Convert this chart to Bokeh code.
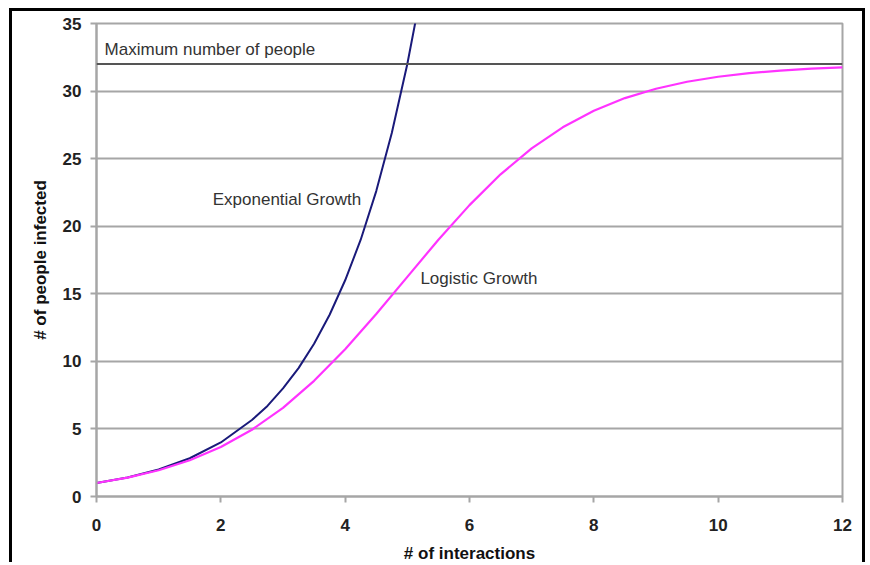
from bokeh.plotting import figure
from bokeh.models import Range1d, Span, Label, FixedTicker
from bokeh.embed import file_html
from bokeh.resources import INLINE

# Data
log_x = [0, 0.5, 1, 1.5, 2, 2.5, 3, 3.5, 4, 4.5, 5, 5.5, 6, 6.5, 7, 7.5, 8, 8.5,
         9, 9.5, 10, 10.5, 11, 11.5, 12]
log_y = [1, 1.40, 1.94, 2.68, 3.66, 4.94, 6.56, 8.56, 10.9, 13.5, 16.25, 19.0,
         21.56, 23.84, 25.76, 27.32, 28.54, 29.48, 30.17, 30.69, 31.06, 31.33,
         31.52, 31.66, 31.76]
exp_x = [0, 0.5, 1, 1.5, 2, 2.5, 2.75, 3, 3.25, 3.5, 3.75, 4, 4.25, 4.5, 4.75,
         5, 5.25, 5.5]
exp_y = [1, 1.41, 2, 2.83, 4, 5.66, 6.7, 8, 9.5, 11.3, 13.45, 16, 19.0, 22.6,
         26.9, 32, 38.0, 45.3]
max_people = 32
x_ticks = [0, 2, 4, 6, 8, 10, 12]
y_ticks = [0, 5, 10, 15, 20, 25, 30, 35]

FONT = "Liberation Sans"
GRID = "#a6a6a6"

p = figure(width=856, height=554, output_backend="svg", toolbar_location=None,
           x_range=Range1d(0, 12), y_range=Range1d(0, 35),
           min_border_left=84, min_border_right=26, min_border_top=12,
           min_border_bottom=68)
p.styles = {"margin-left": "9px", "margin-top": "8px",
            "border-left": "3px solid black", "border-top": "3px solid black",
            "border-right": "3px solid black"}

p.background_fill_color = "white"
p.border_fill_color = "white"
p.outline_line_color = GRID
p.outline_line_width = 2

p.xgrid.grid_line_color = None
p.ygrid.grid_line_color = GRID
p.ygrid.grid_line_width = 2

p.xaxis.ticker = FixedTicker(ticks=x_ticks)
p.yaxis.ticker = FixedTicker(ticks=y_ticks)
for ax in (p.xaxis, p.yaxis):
    ax.axis_line_color = GRID
    ax.axis_line_width = 2
    ax.major_tick_line_color = GRID
    ax.major_tick_line_width = 2
    ax.major_tick_in = 0
    ax.major_tick_out = 6
    ax.minor_tick_line_color = None
    ax.major_label_text_font = FONT
    ax.major_label_text_font_style = "bold"
    ax.major_label_text_font_size = "17px"
    ax.major_label_text_color = "#222222"
    ax.axis_label_text_font = FONT
    ax.axis_label_text_font_style = "bold"
    ax.axis_label_text_font_size = "17px"
    ax.axis_label_text_color = "#111111"

p.xaxis.axis_label = "# of interactions"
p.yaxis.axis_label = "# of people infected"
p.xaxis.major_label_standoff = 16
p.xaxis.axis_label_standoff = 10
p.yaxis.major_label_standoff = 9
p.yaxis.axis_label_standoff = 10

p.add_layout(Span(location=max_people, dimension="width", line_color="#555555",
                  line_width=2))

p.line(exp_x, exp_y, line_color="#1a1a7a", line_width=2)
p.line(log_x, log_y, line_color="#ff33ff", line_width=2.2)

for txt, lx, ly in [("Maximum number of people", 0.13, 33.1),
                    ("Exponential Growth", 1.87, 22.0),
                    ("Logistic Growth", 5.21, 16.1)]:
    p.add_layout(Label(x=lx, y=ly, text=txt, text_font=FONT, text_font_size="17px",
                       text_color="#333333", text_baseline="middle"))

open("out.html", "w").write(file_html(p, INLINE))
